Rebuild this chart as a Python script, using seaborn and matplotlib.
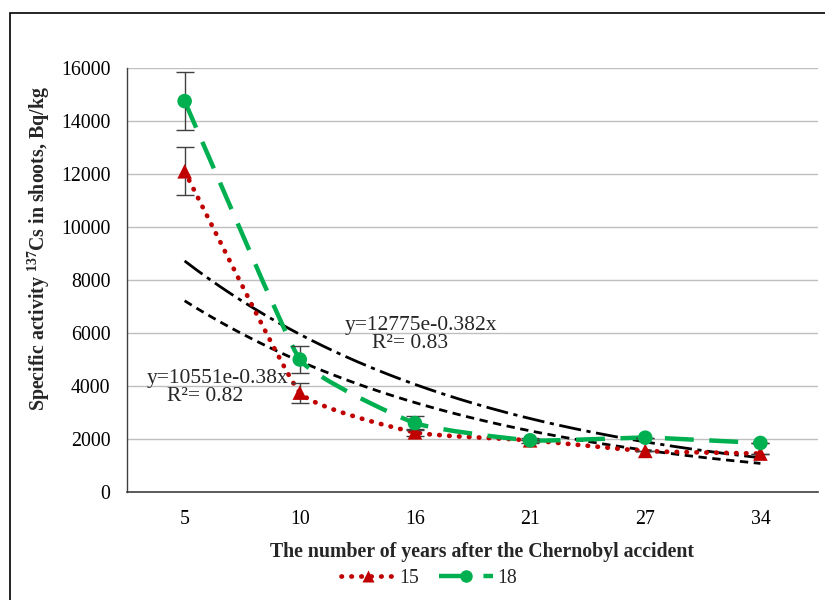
import numpy as np
import pandas as pd
import matplotlib
matplotlib.use("Agg")
import matplotlib.pyplot as plt
import seaborn as sns
from matplotlib.path import Path
from matplotlib.patches import PathPatch, Rectangle
from matplotlib.lines import Line2D

# data
years = ["5", "10", "16", "21", "27", "34"]
s15 = [12100, 3750, 2250, 1950, 1550, 1450]
s15_err = [900, 380, 120, 0, 0, 0]
s18 = [14750, 5000, 2600, 1950, 2050, 1850]
s18_err = [1100, 500, 250, 100, 0, 0]

# exponential trendlines as shown on the chart (x = 1..6)
trend15_a, trend15_b = 10551, -0.38
trend18_a, trend18_b = 12775, -0.382

sns.set_theme(style="white")
plt.rcParams["font.family"] = ["Liberation Serif", "DejaVu Serif"]
plt.rcParams["mathtext.fontset"] = "custom"
plt.rcParams["mathtext.rm"] = "Liberation Serif"
plt.rcParams["mathtext.bf"] = "Liberation Serif:bold"

RED = "#C00000"
GREEN = "#00B050"
FS = 14.3


def smooth_path(ax, xs, ys):
    # Excel-like smoothed line: bezier in screen space, tangents kept short
    tr = ax.transData
    pts = tr.transform(np.column_stack([xs, ys]).astype(float))
    n = len(pts)
    verts = [pts[0]]
    codes = [Path.MOVETO]

    def tangent(i):
        a = pts[max(i - 1, 0)]
        b = pts[min(i + 1, n - 1)]
        d = b - a
        nd = np.hypot(*d)
        if nd == 0:
            return np.zeros(2)
        segs = []
        if i > 0:
            segs.append(np.hypot(*(pts[i] - pts[i - 1])))
        if i < n - 1:
            segs.append(np.hypot(*(pts[i + 1] - pts[i])))
        return d / nd * min(segs) / 6.0

    for i in range(n - 1):
        c1 = pts[i] + tangent(i)
        c2 = pts[i + 1] - tangent(i + 1)
        verts += [c1, c2, pts[i + 1]]
        codes += [Path.CURVE4] * 3
    verts = tr.inverted().transform(np.array(verts))
    return Path(verts, codes)


fig = plt.figure(figsize=(8.25, 6), dpi=100)
ax = fig.add_axes([0.154, 0.18, 0.8375, 0.7067])

# outer chart frame
fig.patches.append(Rectangle((10 / 825, -0.1), 1.2, 1 - 13 / 600 + 0.1,
                             transform=fig.transFigure, fill=False,
                             edgecolor="black", lw=1.2))

xi = np.arange(len(years))
ax.set_xlim(-0.5, len(years) - 0.5)
ax.set_ylim(0, 16000)

df = pd.DataFrame({"x": np.concatenate([xi, xi]),
                   "y": s15 + s18,
                   "series": ["15"] * 6 + ["18"] * 6})

# trendlines
xt = np.linspace(0, len(years) - 1, 200)
ax.plot(xt, trend15_a * np.exp(trend15_b * (xt + 1)), color="black", lw=2,
        ls=(0, (3, 2)), zorder=2)
ax.plot(xt, trend18_a * np.exp(trend18_b * (xt + 1)), color="black", lw=2,
        ls=(0, (8, 2, 1.5, 2)), zorder=2)

# smoothed series lines
ax.add_patch(PathPatch(smooth_path(ax, xi, s15), fill=False, edgecolor=RED, lw=3.4,
                       ls=(0, (0.1, 2.0)), capstyle="round", zorder=3))
ax.add_patch(PathPatch(smooth_path(ax, xi, s18), fill=False, edgecolor=GREEN, lw=3.2,
                       ls=(0, (6.5, 3.5)), zorder=3))

# error bars
ax.errorbar(xi, s15, yerr=s15_err, fmt="none", ecolor="#404040", elinewidth=1,
            capsize=6.5, capthick=1, zorder=4)
ax.errorbar(xi, s18, yerr=s18_err, fmt="none", ecolor="#404040", elinewidth=1,
            capsize=6.5, capthick=1, zorder=4)

# markers
sns.scatterplot(data=df, x="x", y="y", hue="series", style="series",
                palette={"15": RED, "18": GREEN}, markers={"15": "^", "18": "o"},
                s=110, edgecolor="none", legend=False, ax=ax, zorder=5)

ax.set_xlim(-0.5, len(years) - 0.5)
ax.set_ylim(0, 16000)
ax.set_yticks(np.arange(0, 16001, 2000))
ax.set_xticks(xi)
ax.set_xticklabels(years)
ax.tick_params(axis="both", labelsize=FS, colors="black")
ax.tick_params(axis="x", direction="in", length=5, width=1, color="#404040", pad=13)
ax.tick_params(axis="y", length=0, pad=12)
ax.grid(axis="y", color="#BFBFBF", lw=1)
ax.set_axisbelow(True)
for side in ["top", "right"]:
    ax.spines[side].set_visible(False)
ax.spines["left"].set_color("#404040")
ax.spines["bottom"].set_color("#404040")
ax.spines["left"].set_linewidth(1)
ax.spines["bottom"].set_linewidth(1.2)

ax.set_xlabel("The number of years after the Chernobyl accident",
              fontsize=FS, fontweight="bold")
ax.xaxis.set_label_coords(0.513, -0.118)
ax.set_ylabel(r"Specific activity $\mathbf{^{137}}$Cs in shoots, Bq/kg",
              fontsize=FS, fontweight="bold")
ax.yaxis.set_label_coords(-0.108, 0.573)

# trendline equations
EQ = 15.5
ax.text(2.05, 6300, "y=12775e-0.382x", fontsize=EQ, ha="center", va="center")
ax.text(1.96, 5620, "R²= 0.83", fontsize=EQ, ha="center", va="center")
ax.text(0.29, 4300, "y=10551e-0.38x", fontsize=EQ, ha="center", va="center")
ax.text(0.18, 3585, "R²= 0.82", fontsize=EQ, ha="center", va="center")

handles = [
    Line2D([], [], color=RED, lw=3.4, ls=(0, (0.1, 2.0)), dash_capstyle="round",
           marker="^", markersize=9, markeredgecolor="none"),
    Line2D([], [], color=GREEN, lw=3.2, ls=(0, (6.5, 3.5)),
           marker="o", markersize=9, markeredgecolor="none"),
]
fig.legend(handles, ["15", "18"], loc="center", bbox_to_anchor=(0.52, 0.036),
           ncol=2, frameon=False, fontsize=FS, handlelength=2.7, columnspacing=1.0,
           handletextpad=0.25)

fig.savefig("out.png", dpi=100)
